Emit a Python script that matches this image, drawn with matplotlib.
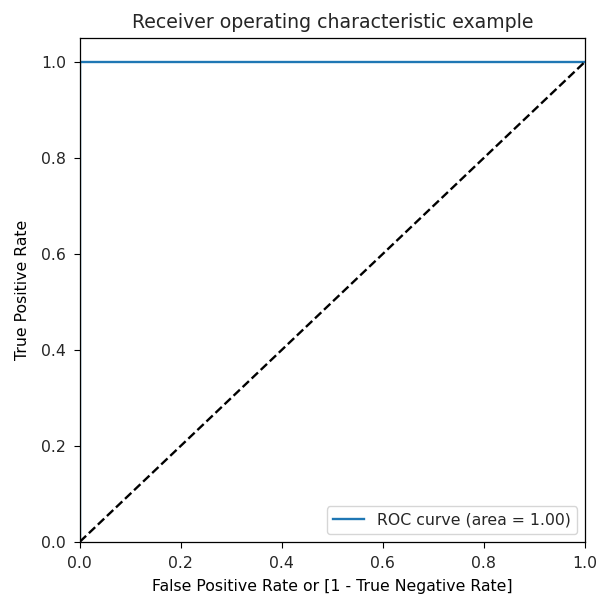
import matplotlib
matplotlib.use('Agg')
import matplotlib.pyplot as plt

# ROC curve points (perfect classifier)
fpr = [0.0, 0.0, 1.0]
tpr = [0.0, 1.0, 1.0]
roc_auc = 1.00

# chance line
chance_x = [0, 1]
chance_y = [0, 1]

s = 1.13  # reference looks like default style scaled up a bit
plt.rcParams['font.size'] = 10 * s
plt.rcParams['text.color'] = '#262626'
plt.rcParams['xtick.labelcolor'] = '#262626'
plt.rcParams['ytick.labelcolor'] = '#262626'
plt.rcParams['xtick.major.size'] = 4.5
plt.rcParams['ytick.major.size'] = 4.5
plt.rcParams['xtick.major.pad'] = 5.5
plt.rcParams['ytick.major.pad'] = 5.5
plt.rcParams['axes.titlepad'] = 6 * s
plt.rcParams['lines.linewidth'] = 1.5 * s
plt.rcParams['axes.linewidth'] = 0.8 * s

fig = plt.figure(figsize=(6, 6), dpi=100)
ax = fig.add_axes([0.133, 0.097, 0.842, 0.84])

ax.plot(fpr, tpr, label='ROC curve (area = %0.2f)' % roc_auc)
ax.plot(chance_x, chance_y, 'k--')
ax.set_xlim([0.0, 1.0])
ax.set_ylim([0.0, 1.05])
ax.set_xlabel('False Positive Rate or [1 - True Negative Rate]', labelpad=6)
ax.set_ylabel('True Positive Rate', labelpad=8)
ax.set_title('Receiver operating characteristic example', fontsize=12 * s)
ax.legend(loc='lower right')

fig.savefig('out.png', dpi=100)
